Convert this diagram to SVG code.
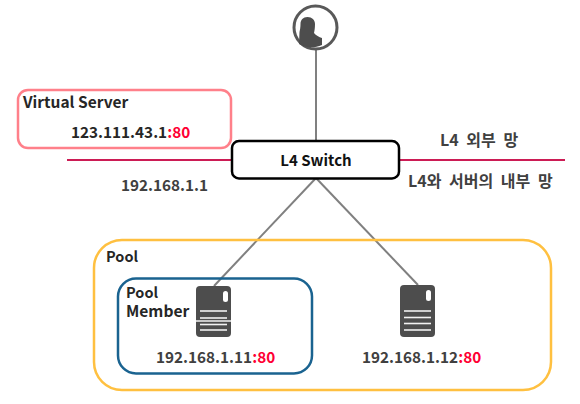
<svg xmlns="http://www.w3.org/2000/svg" width="580" height="404" viewBox="0 0 580 404">
<style>
text{font-family:"Noto Sans CJK KR","Noto Sans",sans-serif;font-weight:700;font-size:15.300px;fill:#262626}
.g{fill:#404040}
.r{fill:#ff0033}
.ko{font-size:16px;word-spacing:4px}
.conn{stroke:#808080;stroke-width:2;fill:none}
.net{stroke:#cc1c55;stroke-width:2;fill:none}
.srv{fill:#4d4d4d}
.sl{stroke:#f2f2f2;stroke-width:1.6}
</style>
<rect width="580" height="404" fill="#fff"/>
<g id="connectors">
<line class="net" x1="67" y1="160" x2="565" y2="160"/>
<line class="conn" x1="316" y1="48" x2="316" y2="141"/>
<line class="conn" x1="316" y1="178" x2="214" y2="286"/>
<line class="conn" x1="316" y1="178" x2="418" y2="285"/>
</g>
<g id="pool">
<rect x="94" y="240" width="457" height="150" rx="28" fill="none" stroke="#ffc040" stroke-width="2.500"/>
<text x="106" y="262" style="font-size:14.500px">Pool</text>
</g>
<g id="pool-member">
<rect x="118" y="278.500" width="194" height="95" rx="18" fill="none" stroke="#1a6390" stroke-width="2.500"/>
<text style="font-size:15px"><tspan x="126" y="298" style="font-size:14.500px">Pool</tspan><tspan x="126" y="317" style="font-size:15.600px">Member</tspan></text>
</g>
<g id="virtual-server">
<rect x="18" y="90" width="213" height="58" rx="10" fill="#fff" stroke="#ff808a" stroke-width="2.500"/>
<text x="23" y="108" style="font-size:15.500px">Virtual Server</text>
<text x="71" y="138">123.111.43.1<tspan class="r">:80</tspan></text>
</g>
<g id="l4-switch">
<rect x="232" y="141" width="167" height="37.500" rx="7" fill="#fff" stroke="#000" stroke-width="2.500"/>
<text x="316" y="166" text-anchor="middle" style="fill:#111;font-size:15px">L4 Switch</text>
</g>
<g id="client">
<circle cx="315.500" cy="27.500" r="21.500" fill="#fff" stroke="#595959" stroke-width="3"/>
<path class="srv" d="M299.500 32C300 30 300.500 27 300.500 24C300.500 20 303 17 307.500 17C312 17 315 20 315 24C315 28 314.500 31 314 33C316 35.500 319 37 322 38L322 45C314 48.500 306 48 299 44Z"/>
</g>
<g id="server-1">
<rect class="srv" x="196" y="286" width="35" height="51" rx="4"/>
<rect x="223" y="291" width="5" height="11" rx="2.500" fill="#fff"/>
<line class="sl" x1="200" y1="311" x2="227" y2="311"/>
<line class="sl" x1="200" y1="318" x2="227" y2="318"/>
<line class="sl" x1="196" y1="321" x2="231" y2="321"/>
<line class="sl" x1="200" y1="324.500" x2="227" y2="324.500"/>
<line class="sl" x1="200" y1="330" x2="227" y2="330"/>
<text x="156" y="363" class="g">192.168.1.11<tspan class="r">:80</tspan></text>
</g>
<g id="server-2">
<rect class="srv" x="400" y="285" width="35" height="52" rx="4"/>
<rect x="426" y="290" width="5" height="11" rx="2.500" fill="#fff"/>
<line class="sl" x1="404" y1="311" x2="431" y2="311"/>
<line class="sl" x1="404" y1="317.500" x2="431" y2="317.500"/>
<line class="sl" x1="404" y1="323.500" x2="431" y2="323.500"/>
<line class="sl" x1="404" y1="330" x2="431" y2="330"/>
<text x="362" y="363" class="g">192.168.1.12<tspan class="r">:80</tspan></text>
</g>
<g id="labels">
<text x="121" y="191" class="g">192.168.1.1</text>
<text x="440" y="146" class="g ko">L4 외부 망</text>
<text x="408" y="187" class="g ko">L4와 서버의 내부 망</text>
</g>
</svg>
